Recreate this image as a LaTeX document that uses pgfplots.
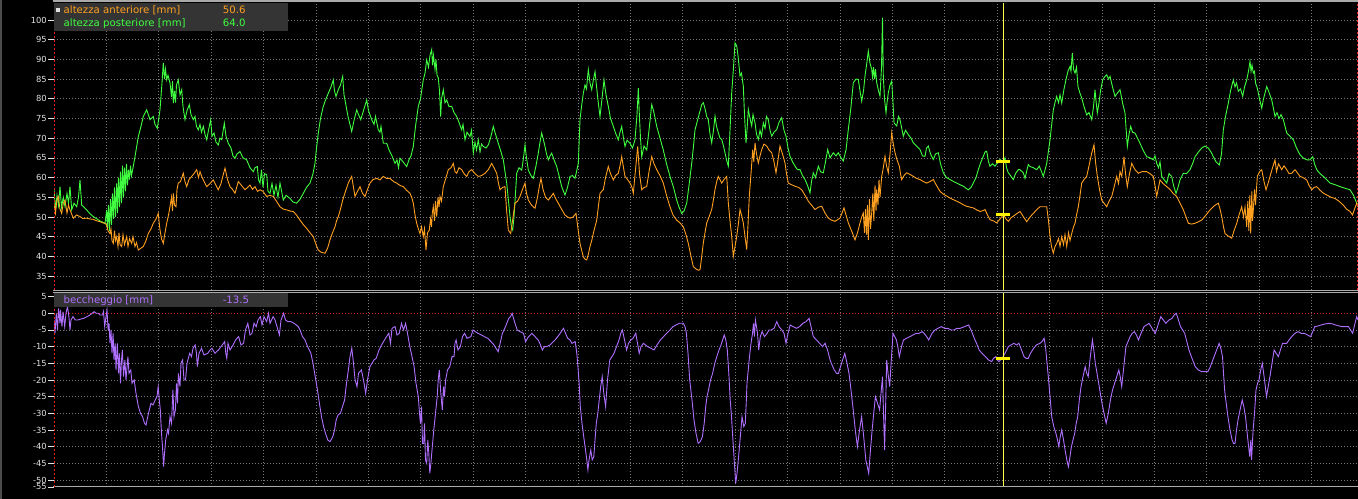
\documentclass[border=0pt]{standalone}
\usepackage{fontspec}
\setmainfont{DejaVu Sans}
\usepackage{pgfplots}
\pgfplotsset{compat=1.18}
\definecolor{ora}{RGB}{255,160,32}
\definecolor{grn}{RGB}{64,255,64}
\definecolor{pur}{RGB}{176,112,255}
\definecolor{gridc}{RGB}{120,120,120}
\definecolor{lbl}{RGB}{225,225,225}
\definecolor{boxc}{RGB}{52,52,52}
\definecolor{curs}{RGB}{255,255,70}
\definecolor{bord}{RGB}{170,170,170}
\definecolor{redd}{RGB}{235,30,30}
\pgfplotsset{
  chartstyle/.style={
    scale only axis, width=1304bp, anchor=south west,
    xmin=54, xmax=1358,
    axis line style={draw=none},
    xtick={106.4,158.8,...,1312},
    xticklabels={},
    x tick style={draw=none},
    tick align=outside, tick pos=left,
    major tick length=6bp,
    y tick style={lbl, line width=0.7bp},
    yticklabel style={font=\fontsize{8.4}{9}\selectfont, text=lbl, inner sep=1bp},
    /pgf/number format/assume math mode=true,
    grid=major,
    major grid style={gridc, line width=0.7bp, dash pattern=on 1bp off 2bp},
    no markers,
    every axis plot/.append style={line width=0.9bp},
    clip=true,
  }
}
\begin{document}
\begin{tikzpicture}[x=1bp,y=1bp]
\fill[black] (0,0) rectangle (1358,499);
\useasboundingbox (0,0) rectangle (1358,499);
\draw[gray!60!black, line width=1.5bp] (1,0) -- (1,499);

% ---------------- TOP PANEL ----------------
\begin{axis}[chartstyle, at={(54bp,209bp)}, height=287bp,
  ymin=31.47, ymax=104.31, ytick={35,40,...,100}]
\addplot[grn] coordinates {
(54,56.9)(55.5,52.0)(57,55.5)(58.5,53.0)(60,57.7)(61.5,52.5)(63.3,55.0)(65,52.6)(67,56.0)(68.5,53.5)(70,57.7)(71.7,51.8)(74,53.5)(76.7,52.6)(78.5,55.0)(80,59.4)(81.7,53.0)(84,52.5)(86.7,51.8)(90,50.8)(93.3,50.1)(97,49.5)(100,49.0)(103.3,48.6)(105,48.3)(106.7,51.8)(107.5,47.0)(108.5,53.0)(109.5,46.5)(110.5,54.5)(111.5,48.0)(112.5,56.0)(113.5,49.5)(114.5,57.5)(115.5,50.0)(116.7,58.5)(117.5,51.0)(118.5,60.0)(119.5,52.5)(120.5,61.5)(121.5,53.5)(122.5,63.0)(123.5,55.0)(124.5,62.5)(125.5,56.5)(126.5,63.5)(127.5,58.0)(128.5,62.0)(129.5,59.5)(130.5,63.0)(131.5,60.5)(133,62.5)(135,65.3)(138.3,70.4)(141,73.0)(143.3,75.5)(146.7,77.2)(150,74.7)(153.3,75.5)(155,73.5)(157.3,72.5)(160,77.2)(162,84.0)(163.3,89.1)(164.5,85.0)(165.5,87.5)(166.7,84.8)(168,86.0)(170,84.0)(171.5,80.5)(172.5,84.5)(173.3,78.9)(174.5,82.0)(175.5,79.0)(176.5,83.5)(178.3,84.8)(180,81.0)(181.7,82.3)(183,78.0)(185,74.7)(187,77.0)(189.3,78.5)(191,76.0)(193.3,74.7)(195,75.5)(196.5,73.0)(198.3,72.1)(200,73.5)(201.5,71.5)(203.3,73.0)(205,71.0)(206.7,69.6)(208.5,72.0)(210.7,74.7)(212,70.5)(214,71.3)(216,69.0)(218.3,68.3)(220,70.0)(221.7,69.6)(224.3,73.8)(226,70.5)(228.3,68.7)(231,67.5)(233,65.5)(235,64.9)(237,66.0)(240,66.6)(243,65.0)(246.7,64.5)(250,62.5)(253.3,61.5)(255,62.5)(257.3,62.8)(258.5,59.5)(260,58.6)(261.5,62.0)(263,57.5)(264.5,61.0)(266.7,60.7)(268,56.5)(270,56.0)(272,58.5)(274,55.5)(276,58.0)(278,55.0)(280,58.6)(283.3,54.3)(286,55.5)(290,54.7)(293,53.8)(296.7,53.5)(300,54.5)(303.3,56.0)(306.5,57.5)(310,58.6)(313,61.0)(315,63.6)(316.5,67.5)(318.3,71.3)(320.5,75.0)(323.3,78.1)(326,80.0)(328.3,81.4)(331,83.0)(333.3,84.8)(334.5,82.0)(336,80.6)(338.3,82.3)(340.5,83.5)(342.7,85.7)(344,81.0)(345,79.7)(348,75.5)(351.7,71.7)(354,74.5)(356.7,77.2)(358.5,76.0)(360.7,74.7)(363.5,77.0)(366.7,79.7)(368.5,77.0)(371.7,74.7)(374,73.5)(375.5,75.5)(378.3,72.1)(380,71.5)(381,73.0)(383.3,68.7)(386.7,68.7)(389,67.0)(392,65.5)(395,63.6)(397,64.5)(398.5,62.5)(400,64.9)(403,64.0)(406.7,62.8)(409,64.5)(411,65.5)(413.3,67.9)(415.5,73.0)(418.3,78.1)(420.5,80.0)(423.3,84.8)(425,86.5)(426.7,89.9)(428.5,88.0)(430,91.0)(431.7,92.5)(432.5,88.5)(433.5,91.0)(435,87.4)(436,90.0)(437,86.0)(438.3,85.3)(439.5,82.0)(440.7,75.5)(441.5,80.0)(443.3,82.3)(445,79.0)(446.7,79.7)(449,78.0)(451.7,78.1)(454,76.5)(456.7,75.5)(459,74.0)(461.7,72.1)(463,73.5)(465,69.6)(467,71.5)(470,70.4)(471.5,72.0)(473.3,66.2)(475,69.0)(476.5,67.0)(478.3,69.6)(480,66.5)(481.5,68.5)(483.3,67.9)(486,67.5)(488.3,68.3)(490.5,70.0)(493.3,73.0)(495.5,71.0)(498.3,68.7)(501,66.5)(503.3,64.5)(505,61.5)(506.7,58.6)(508.5,54.0)(510,50.1)(511.5,47.5)(512.7,46.7)(514,50.0)(515.5,56.0)(516.7,61.1)(519,62.5)(521.7,61.9)(523.5,65.0)(525,68.3)(526.5,65.0)(528.3,61.9)(531,60.5)(533.3,59.8)(536,63.0)(538.3,66.2)(540,69.0)(541.7,71.3)(543.5,69.5)(545,67.9)(546.5,66.0)(548.3,64.5)(550,65.5)(551.7,66.2)(554,64.5)(556.7,62.8)(559,60.5)(561.7,57.7)(563.5,56.5)(565,55.6)(567.5,57.5)(570,60.3)(572.5,60.5)(575,59.8)(576.5,61.5)(578.3,63.6)(580,74.7)(581.5,78.0)(583.3,81.4)(585,83.5)(586.5,82.5)(588.3,87.4)(590,84.0)(591.7,82.3)(593.5,85.0)(595,86.9)(597,82.0)(598.5,78.5)(600,75.5)(602,80.0)(604,84.8)(606,81.0)(608.3,78.1)(610.5,75.0)(613.3,73.0)(616,71.0)(618.3,69.6)(620,71.5)(621.7,73.0)(623.5,70.0)(625,67.9)(627,69.5)(630,68.7)(632.5,67.5)(635,69.6)(637,76.0)(638.3,82.7)(639.5,75.0)(640.5,70.0)(641.7,65.3)(644,68.0)(646.7,67.0)(649,72.0)(651.7,78.5)(653.5,77.0)(656.7,73.0)(660,70.0)(663.3,67.0)(666.5,63.5)(670,60.3)(673.5,57.5)(676.7,54.3)(679,52.5)(681.7,50.9)(684,51.5)(686.7,53.5)(689,58.0)(691.7,63.6)(693.5,68.0)(695,72.1)(698,75.0)(701.7,78.5)(703.3,79.0)(705,77.5)(706.7,75.5)(708.3,74.7)(710,71.0)(711.7,68.8)(713.5,72.0)(715,75.6)(716.5,73.0)(718.3,71.4)(720,70.0)(721.7,69.7)(723.5,68.0)(725,66.3)(726.5,64.5)(728.3,62.9)(730,72.0)(731.7,81.5)(733.5,88.0)(735,94.2)(736.7,93.4)(738,91.0)(740,85.8)(741.5,86.5)(743.3,83.2)(744.5,76.0)(746,68.8)(747,72.0)(748.3,77.3)(750,75.0)(751.7,73.1)(753,76.0)(755,73.9)(756.5,71.0)(758.3,69.7)(760,72.0)(761.5,70.5)(763.3,73.9)(765,72.5)(766.5,75.5)(768.3,74.7)(770,72.0)(771.7,70.5)(774,71.5)(776.7,72.2)(779,74.0)(781.7,75.2)(784,72.0)(786,70.5)(788,67.5)(790,65.4)(792.5,64.0)(795,62.9)(797.5,62.0)(800,62.0)(802.5,60.5)(805,59.5)(807.5,58.0)(810,56.1)(811.5,59.0)(813.3,61.2)(815.5,60.0)(818.3,62.9)(820.5,61.5)(823.3,61.2)(825.5,64.0)(827.7,67.1)(830,65.0)(833.3,66.3)(836,65.5)(838.3,66.3)(841,65.0)(843.3,64.2)(846,67.0)(848.3,72.2)(851,78.0)(853.3,84.1)(856,85.0)(858.3,84.9)(860,82.0)(861.7,79.4)(863.5,82.0)(865,85.8)(866.5,88.5)(868.3,92.1)(870,89.0)(871.7,87.5)(872.5,85.5)(873.5,88.0)(874.5,85.0)(875.5,87.5)(876.7,84.1)(878.5,82.0)(880,80.7)(881.5,88.0)(882.5,100.6)(883.3,85.8)(884.5,80.0)(886,76.4)(887,79.0)(888.3,81.5)(890,83.5)(891.7,84.5)(893,79.0)(894,73.9)(896.7,73.1)(898.5,75.5)(900,74.7)(903.3,70.5)(905.5,72.0)(908.3,70.9)(911,70.0)(913.3,68.8)(916.5,68.0)(920,67.1)(922.5,65.5)(925,65.4)(926.5,67.5)(928.3,68.0)(930.5,66.0)(933.3,64.6)(935.5,66.0)(938.3,66.3)(940.5,63.5)(943.3,61.2)(946.5,60.0)(950,59.5)(953.5,59.0)(956.7,58.6)(960,58.2)(963.3,57.8)(966,57.3)(968.3,56.9)(971,57.5)(973.3,58.6)(976,60.0)(978.3,62.0)(981,64.0)(983.3,65.4)(985,66.5)(986.7,66.7)(988.5,64.0)(990,62.9)(992.5,63.5)(995,62.9)(997.5,63.8)(1000,64.6)(1003,64.0)(1005,65.0)(1006.5,62.5)(1008.3,61.2)(1010.5,60.5)(1013.3,59.5)(1015.5,61.0)(1018.3,62.0)(1020,62.0)(1023.3,61.2)(1025,59.8)(1027,62.0)(1028.3,63.3)(1030,62.8)(1033.3,62.5)(1036.7,62.0)(1039.3,62.9)(1041.5,61.5)(1043.3,60.3)(1046.7,63.6)(1050,69.6)(1053.3,77.2)(1055,79.0)(1056.7,80.6)(1058.5,79.0)(1060,81.0)(1061.7,78.9)(1064,82.5)(1066.7,85.7)(1068,87.0)(1070,88.2)(1071,87.0)(1072.3,91.6)(1073.5,87.5)(1075,86.5)(1076.5,88.0)(1078,83.0)(1080,81.4)(1082,80.0)(1084,78.0)(1086.7,75.9)(1089,76.5)(1091.7,74.7)(1093.5,78.0)(1095,82.3)(1096.2,79.0)(1097.3,76.4)(1099,79.0)(1100.5,82.0)(1102.7,84.8)(1104.5,85.5)(1106.7,86.1)(1108.5,85.0)(1110,85.7)(1112.5,83.0)(1115,80.6)(1117.5,81.5)(1120,82.3)(1122.5,79.0)(1125,76.4)(1126.2,72.0)(1127.3,67.9)(1129,71.0)(1130.7,73.0)(1132.5,71.5)(1135,71.3)(1137.5,70.0)(1140,68.7)(1143,67.0)(1146.7,65.3)(1150,65.0)(1153.3,64.5)(1155,65.5)(1156.7,63.6)(1158.5,62.5)(1160,64.0)(1161.7,60.3)(1164,59.5)(1166.7,58.6)(1169,61.0)(1171.7,60.3)(1173.5,58.0)(1176,56.0)(1178,57.5)(1180,59.4)(1183.3,61.1)(1186.5,61.0)(1190,62.0)(1192.5,63.5)(1195,65.3)(1198.5,66.5)(1201.7,67.5)(1205,68.0)(1208.3,67.5)(1211,66.5)(1213.3,65.3)(1216,64.0)(1219.3,63.2)(1221.5,66.0)(1223.3,72.1)(1225.5,75.5)(1228.3,78.9)(1230.5,82.0)(1233.3,84.8)(1235,83.0)(1236.5,84.0)(1238.3,81.9)(1240.5,82.5)(1242.7,80.6)(1244.5,83.0)(1246.7,84.8)(1248.5,87.0)(1250,89.5)(1251,87.0)(1252,88.5)(1253.3,86.5)(1254.5,87.0)(1255.5,84.0)(1257.3,82.7)(1259.5,80.0)(1261.7,77.6)(1263.5,80.0)(1266.7,83.1)(1268.5,82.0)(1271.7,79.7)(1273.5,77.5)(1275,75.5)(1277,76.5)(1279,75.0)(1281,76.0)(1283.3,74.7)(1285,73.0)(1286.7,71.3)(1290,70.5)(1293.3,69.6)(1296.5,67.5)(1300,65.8)(1303,65.0)(1306.7,64.5)(1310,64.5)(1312.7,65.3)(1314.5,63.5)(1316.7,62.0)(1320,61.0)(1323.3,60.3)(1326.5,59.5)(1330,58.6)(1335,58.2)(1340,57.7)(1345,57.3)(1350,56.9)(1353.5,55.5)(1356.7,53.5)(1358,53.0)
};
\addplot[ora] coordinates {
(54,53.5)(55.5,51.0)(57,54.5)(58.3,55.2)(60,52.0)(61.7,50.9)(63.3,53.5)(65,54.3)(67,51.0)(68.5,53.0)(70,51.8)(73.3,49.7)(76.5,50.5)(80,50.1)(83,49.6)(86.7,49.7)(90,49.5)(93.3,49.4)(97,49.0)(100,48.8)(103,48.5)(105,48.4)(106.5,48.0)(108,46.5)(110,45.8)(111,47.0)(112,44.0)(113.3,43.3)(114.5,46.5)(115.5,44.0)(116.7,45.0)(118,42.5)(119,46.0)(120,43.0)(121.7,42.5)(123,45.5)(124.5,43.0)(126.7,45.0)(128,42.5)(129.5,44.5)(131.7,43.3)(133,45.0)(135,42.5)(136.5,43.5)(138.3,41.6)(140.5,42.0)(143.3,42.5)(146,44.0)(148.3,45.8)(151,47.0)(153.3,48.4)(156,49.5)(158.3,50.9)(159.2,48.5)(160,46.7)(161.5,44.5)(163.3,43.3)(165,46.0)(166.7,48.4)(168.5,50.5)(170,52.6)(171.5,55.0)(172.5,51.5)(173.3,56.0)(174.5,53.0)(176,52.6)(177,57.0)(178.3,58.6)(180.5,59.0)(183.3,61.1)(185,59.0)(186.7,57.7)(189,59.5)(191.7,60.3)(194,61.0)(196.7,62.0)(198.5,60.0)(200,61.5)(201.7,60.3)(204,59.0)(206.7,57.7)(210,58.5)(213.3,59.4)(216,58.0)(218.3,56.9)(221,58.5)(223,60.5)(225,62.4)(227.5,59.5)(230,57.7)(232.5,57.0)(235,56.0)(238.3,59.0)(241.5,58.0)(245,56.9)(247.5,57.5)(250,58.1)(252.5,57.0)(255,57.7)(257.5,56.5)(260,56.9)(263,56.5)(266.7,55.2)(270,55.5)(273.3,55.2)(276.5,54.0)(280,52.6)(283.3,52.0)(286.7,51.8)(290,51.5)(293.3,51.4)(296.5,50.5)(300,49.2)(303.5,48.0)(306.7,47.1)(310,46.0)(313.3,45.0)(316,43.0)(318.3,41.6)(321.5,41.0)(325,40.8)(327.5,42.0)(330,44.2)(332.5,46.0)(335,47.5)(336.5,49.0)(338.3,50.1)(340.5,52.0)(342.7,54.3)(345.5,56.5)(348.3,58.6)(350,59.5)(351.7,60.3)(353.5,57.5)(355,55.2)(357.5,56.5)(360,57.7)(362.5,56.0)(365,55.2)(367.5,57.0)(370,58.6)(373,59.5)(376.7,59.8)(380,59.4)(383.3,60.3)(386.5,59.8)(390,59.8)(393.5,59.0)(396.7,58.6)(400,58.0)(403.3,57.7)(406.5,56.8)(410,56.0)(411.7,55.0)(413.3,53.5)(415,50.5)(416.7,48.4)(418.3,47.0)(420,45.8)(421.5,47.5)(423.3,45.0)(424.5,47.0)(426,41.6)(427.5,46.0)(429.3,46.7)(430.5,49.5)(431.5,47.5)(432.3,51.0)(433.3,52.6)(434.5,49.0)(435.5,54.0)(436.7,50.1)(438,55.0)(439,52.5)(440,55.2)(441.5,54.0)(443.3,57.7)(446,60.0)(448.3,62.0)(451,62.5)(453.3,63.6)(455,61.5)(456.7,61.1)(459,62.5)(461.7,62.0)(464,61.0)(466.7,60.3)(469,61.5)(471.7,62.0)(475,61.0)(478.3,60.3)(481.5,60.5)(485,61.1)(488.3,62.0)(491.7,63.6)(494,62.5)(496.7,61.1)(498.5,58.5)(500,56.9)(502.5,57.5)(505,57.7)(506.5,52.0)(508.3,46.7)(510.7,45.8)(512.5,49.0)(515,53.5)(517.5,54.0)(520,55.2)(522.5,57.0)(525,58.6)(526.5,56.0)(528.3,54.3)(531.5,53.0)(535,52.2)(537.5,55.0)(539.5,58.0)(541,59.8)(543,57.0)(545.5,55.0)(548.3,54.3)(550.5,55.0)(553.3,56.0)(556,54.5)(558.3,53.5)(561.5,52.0)(565,50.5)(567.5,50.0)(570,49.7)(573,50.0)(576,50.9)(578,47.0)(580,43.3)(581.7,41.5)(583.3,39.9)(585,39.3)(586.7,39.1)(588.3,40.5)(590,42.5)(591.7,44.0)(593.3,45.8)(595,47.5)(596.7,49.2)(598.3,52.5)(600,56.0)(601.7,56.5)(603.3,56.9)(605.5,60.0)(608.3,62.8)(610.5,61.0)(613.3,59.4)(615.5,60.5)(618.3,61.1)(620,63.0)(621.7,65.3)(623.5,62.5)(625,60.3)(627.5,59.5)(630,58.6)(632,57.5)(633.3,56.0)(635.5,62.0)(637.7,67.9)(639.5,61.0)(641.7,56.9)(644,57.5)(646.7,57.7)(649,61.5)(651.7,65.3)(654,63.5)(656.7,62.0)(660,60.5)(663.3,58.6)(666.5,55.5)(670,52.6)(673,50.5)(676.7,49.2)(680,48.5)(683.3,47.5)(686,45.5)(688.3,43.3)(691,40.0)(693.3,37.4)(696,36.8)(698.3,36.5)(700,36.6)(701.5,39.5)(703.3,43.4)(705,46.0)(706.7,48.5)(709,50.0)(711.7,51.9)(713.5,54.5)(715,57.0)(716.7,59.0)(718.3,60.3)(720,59.5)(721.7,58.6)(724,59.5)(726.7,60.3)(727.5,57.0)(728.3,53.6)(730,49.0)(731.7,45.1)(733.3,40.0)(735,42.5)(736.7,45.1)(738.5,48.5)(740,51.9)(741.5,50.5)(743.3,48.5)(745,45.0)(746.7,41.7)(748,48.0)(749.3,55.3)(751,61.0)(752.7,67.1)(753.8,64.0)(755,68.8)(756.5,66.0)(758.3,63.7)(760,65.5)(761.7,67.1)(764,68.5)(766.7,68.0)(769,67.0)(771.7,66.3)(774,64.0)(776,61.2)(778,64.5)(780,68.0)(782.5,66.0)(785,63.7)(786.5,61.0)(788.3,58.6)(791.5,58.2)(795,57.8)(798.5,57.5)(801.7,56.9)(805,55.5)(808.3,54.0)(811.5,53.0)(815,51.9)(818.5,52.5)(821.7,52.7)(825,51.0)(828.3,49.7)(831.5,49.2)(835,48.9)(837.5,49.3)(840,49.7)(842,51.0)(844,52.3)(846,50.5)(848.3,48.5)(851.5,46.5)(855,44.2)(857.5,46.0)(860,48.5)(861.7,50.0)(863.3,51.0)(864.5,46.0)(865.5,52.0)(866.5,45.5)(867.5,53.0)(868.3,44.2)(869.5,54.5)(870.5,47.0)(871.7,51.0)(872.8,56.0)(873.8,49.0)(875,58.0)(876,51.5)(876.7,57.0)(878,53.0)(879,59.5)(880,55.0)(881.7,60.3)(883.3,62.5)(885,65.4)(886.5,63.0)(888.3,61.2)(890,66.0)(891.7,71.4)(893.3,68.5)(895,66.3)(897,64.5)(899.3,62.9)(900.5,61.0)(901.7,59.5)(904,60.5)(906.7,61.2)(910,60.8)(913.3,60.3)(916.5,59.8)(920,59.5)(923.3,59.0)(926.7,58.6)(930,59.0)(933.3,59.5)(936.5,58.0)(940,56.5)(943.3,55.8)(946.7,55.3)(950,54.8)(953.3,54.4)(956.7,54.0)(960,53.6)(963.3,53.1)(966.7,52.7)(970,52.5)(973.3,52.3)(976.7,51.8)(980,51.4)(983,51.6)(985,51.9)(987.5,50.5)(990,49.3)(993.5,49.0)(996.7,48.5)(1000,49.5)(1003.3,50.6)(1006,49.5)(1008.3,48.9)(1011,49.8)(1013.3,50.2)(1016.5,50.8)(1020,51.4)(1023.5,50.0)(1026.7,48.8)(1030,50.0)(1033.3,50.9)(1036.5,51.8)(1040,52.6)(1043,52.6)(1046.7,52.6)(1048.5,49.0)(1050,45.0)(1051.5,42.5)(1053.3,40.8)(1055,42.5)(1056.7,43.3)(1058.5,44.5)(1060,42.5)(1061.7,45.0)(1063.5,43.0)(1065,45.5)(1066.7,42.5)(1068.5,46.0)(1070,44.0)(1071.7,45.8)(1073.5,47.5)(1075,48.4)(1076.5,50.5)(1078.3,52.6)(1080,55.5)(1081.7,58.6)(1084,59.5)(1086.7,60.3)(1089,63.0)(1091.7,66.2)(1094,68.3)(1095.5,64.0)(1097.3,60.3)(1099.5,57.0)(1101.7,54.3)(1104,53.5)(1106.7,52.6)(1109,54.0)(1111.7,55.2)(1114,57.5)(1116.7,60.3)(1118.5,58.5)(1120,61.5)(1121.7,60.3)(1123,63.0)(1124,65.3)(1125.5,61.0)(1127.3,57.7)(1129.5,61.0)(1131.7,63.6)(1135,62.0)(1138.3,61.1)(1142,61.5)(1146.7,61.5)(1150,61.0)(1153.3,60.3)(1155,58.0)(1156.7,55.2)(1158.5,57.5)(1160,59.4)(1163,58.5)(1166.7,57.7)(1170,57.0)(1173,56.0)(1176.7,55.2)(1180,53.5)(1183.3,51.8)(1186,50.0)(1188.3,48.4)(1191.5,48.2)(1195,48.4)(1198.5,48.8)(1201.7,49.2)(1206,50.5)(1210,51.8)(1214,52.8)(1218.3,53.5)(1220,52.0)(1221.7,50.1)(1223.5,47.5)(1225,45.8)(1228,45.2)(1231.7,44.6)(1234,46.5)(1236.7,48.4)(1239,50.5)(1241.7,52.6)(1243.5,50.0)(1245,52.5)(1246.7,47.5)(1247.8,54.0)(1248.8,46.5)(1249.8,55.5)(1250.7,45.8)(1251.8,56.5)(1252.5,49.0)(1253.3,51.8)(1254.5,57.0)(1255.5,53.0)(1257.3,60.3)(1259.5,61.5)(1261.7,62.0)(1264,59.0)(1266,56.9)(1268,58.5)(1270,60.3)(1272.5,62.5)(1275,64.5)(1276.5,61.5)(1278.5,63.5)(1281.7,62.0)(1284,63.0)(1286.7,62.0)(1289,61.0)(1291.7,61.1)(1295,62.0)(1298,61.0)(1300,60.3)(1303,60.0)(1306.7,59.4)(1309,58.0)(1311.7,56.9)(1314,57.5)(1316.7,57.7)(1320,56.8)(1323.5,56.0)(1326.7,55.6)(1331,55.0)(1335,54.7)(1339,54.0)(1343.3,53.0)(1346.5,52.0)(1350,51.4)(1352.5,50.5)(1354.5,52.0)(1356.7,53.5)(1358,52.5)
};
\addplot[curs, line width=1bp] coordinates {(1003,31.47)(1003,104.31)};
\addplot[yellow, line width=3bp] coordinates {(996,64.0)(1010,64.0)};
\addplot[yellow, line width=3bp] coordinates {(996,50.6)(1010,50.6)};
\end{axis}

% ---------------- BOTTOM PANEL ----------------
\begin{axis}[chartstyle, at={(54bp,12bp)}, height=194bp,
  ymin=-52.1, ymax=6.09, ytick={-50,-45,...,-5},
  extra y ticks={0,5,-52.1}, extra y tick labels={0,5,-55},
  extra y tick style={grid=none}]
\addplot[redd, line width=0.9bp, dash pattern=on 1bp off 2bp] coordinates {(54,0)(1358,0)};
\addplot[pur] coordinates {
(54,-2)(55,-6)(56.3,0)(57.5,-5)(58.5,1.5)(60,-3)(60.5,1)(62,-4)(63,0.5)(64.7,-4)(66,0)(67.5,2)(68.9,-1)(70,-5)(71,-2)(73,-1)(75.3,-2)(78,-2)(80,-1.8)(83.7,-1.5)(87,-1)(90,-0.5)(94.2,0.5)(96,0)(98.4,0)(100,-0.5)(102.6,-0.5)(103.5,0.5)(104.7,-4)(106,-1)(107,1)(108.1,-5)(109,-3)(110,-9)(111,-5)(112,-12)(113.1,-6)(114,-14)(115.2,-9)(116,-17)(117.3,-9)(118.5,-18)(119.4,-12)(120.5,-21)(121.5,-14)(122.4,-11)(123.5,-19)(124.9,-14)(126,-20)(127.9,-13)(129,-18)(130.8,-17)(132,-21)(134.2,-20)(136,-24)(138.4,-28)(140.5,-30)(142.6,-31)(144.5,-33)(146,-33.5)(148.5,-30)(151,-27)(153,-27.5)(155.2,-26)(157,-25)(158.2,-22)(159.3,-26)(160.3,-29)(161.5,-36)(162.5,-40)(163.6,-46)(164.5,-42)(165.7,-38)(167.5,-35)(168.5,-36)(170,-31)(171.5,-33)(172.9,-23)(174,-31)(175.4,-29)(176.5,-21)(177.5,-27)(178.4,-18)(180,-22)(181,-15)(182.6,-14)(184,-20)(185.5,-20)(187,-15)(189.7,-12)(191.5,-13)(193,-10.5)(195.2,-9.5)(196.5,-12)(197.3,-16)(199,-12)(201.5,-10.5)(204,-12.5)(207.8,-12)(210,-11)(212,-10.5)(215,-12)(218.4,-11)(221,-10)(224.7,-8.5)(225.8,-12)(226.8,-13.5)(228,-9)(230,-11)(233.1,-9.5)(235.5,-8)(238.6,-7)(241,-9.5)(243.6,-9)(245.5,-5)(247.8,-3)(250,-6.5)(252,-6)(254,-3)(256.2,-4)(258,-2)(260.4,-1)(262,-3.5)(264,-1)(266.7,-2.5)(268.5,0)(270,-3)(273.1,-1)(275,-2)(277,-4)(279.4,-6.5)(281,-2)(283.6,0)(285.5,-2)(287.8,-2.5)(291,-2.5)(294.1,-3)(298.3,-4)(300,-5)(302.5,-7)(305,-8)(307.6,-10)(310.9,-12)(313,-15)(315.2,-19)(317.5,-23)(319.4,-27)(321.5,-31)(323.6,-34)(325.5,-36)(327.8,-38)(330,-38.5)(332.8,-37)(334.5,-35)(336.2,-32)(338,-30.5)(340.4,-30)(342.5,-28)(344.6,-26)(346.5,-21)(348.8,-16)(350,-13)(351.8,-10.5)(353.5,-15)(355.1,-20)(357,-22)(358.5,-18)(361.4,-17)(363.5,-20)(365.7,-24)(367.5,-20)(369.9,-16)(372,-15)(374,-14)(376.2,-13.5)(379,-11)(382.5,-9)(385.5,-7.5)(388.8,-6)(390.5,-9)(392,-4.5)(395.1,-4)(397,-6.5)(399.3,-6)(401.5,-3)(403.5,-5)(405.6,-3)(407.5,-6)(409.8,-10)(412,-13)(414.1,-16)(416,-21)(418.3,-25)(419.5,-30)(420.4,-33)(421.5,-28)(422.5,-39)(423.7,-39)(424.5,-33)(425.5,-44)(426.7,-45)(427.8,-38)(428.8,-42)(429.8,-48)(430.9,-45)(432,-41)(433.8,-35)(435.5,-30)(437.2,-25)(438.2,-20)(439.3,-17)(440.8,-24)(442.3,-29)(443.5,-22)(444.5,-25)(445.6,-20)(447.5,-17)(449.8,-16)(452,-13)(454,-13)(455,-9)(456.1,-8)(458,-11)(460.3,-10)(462.5,-7)(464.6,-6)(467,-7.5)(470.9,-7)(473,-5)(475.1,-5.5)(478,-6)(481.4,-6.5)(484.5,-7)(487.7,-7.5)(491,-8.5)(494,-9.5)(496,-10.5)(498.2,-11.5)(500.5,-8.5)(502.4,-6)(505.5,-4)(508.7,-1.5)(510.5,-1)(512.1,0)(514.5,-2.5)(517.2,-5)(520,-5.5)(523.5,-6)(525.6,-8.5)(528.5,-7)(531.9,-6)(535,-7)(538.2,-8)(540.5,-9.5)(542.4,-11)(544.5,-10)(546.6,-10)(550,-9.5)(555,-8)(559,-6.5)(563.5,-4.5)(565.5,-6)(567.7,-7.5)(570,-8)(571.9,-9)(575.2,-8.5)(576.8,-12)(578.2,-17)(579.3,-22)(580.3,-28)(582,-33)(583.7,-37)(585.5,-41)(586.8,-44)(587.9,-47)(589,-44)(590.8,-41)(592.2,-44)(593.8,-43)(595,-38)(596.3,-33)(597.8,-30)(599.2,-26)(600.7,-22)(602.2,-19)(603.8,-24)(605.6,-28)(607.5,-20)(609.8,-14)(612,-13)(614,-12)(616.5,-10)(619,-8)(620.8,-6)(622.4,-5)(624.5,-8)(626.6,-11)(628.5,-9)(630.8,-8)(633,-7.5)(635.8,-6)(637.5,-9)(639.2,-12)(641,-10)(643.4,-9)(645.5,-9.5)(647.6,-10)(651,-10.5)(654,-11)(657,-9.5)(660.3,-8)(663.5,-7)(666.6,-6)(670,-5)(672.9,-4)(676,-3.5)(679.2,-3)(683.4,-3)(685,-4)(686.4,-6)(688,-12)(689.7,-20)(692,-26)(694,-32)(696,-36)(698.2,-39)(700.2,-38.5)(702.4,-37)(704.2,-33)(705.7,-28)(707,-25)(708.5,-23)(710.5,-20)(712.6,-18)(714.8,-15)(716.8,-13)(719,-11)(721,-9.5)(722.6,-8)(724.3,-6.5)(725.8,-8)(727.3,-11)(728.8,-18)(730.2,-26)(731.5,-31)(732.7,-37)(734.2,-44)(735.7,-51)(737,-48)(738.6,-43)(740.3,-37)(742,-31)(743.8,-34)(745.3,-33)(746.2,-27)(747,-21)(748.2,-17)(749.5,-13)(751,-9)(752.5,-6)(753.5,-3)(754.4,-7)(755.4,-2)(756.5,-4)(757.5,-6)(758.7,-11)(760.3,-7)(762.1,-5.5)(764.5,-7)(767.1,-6)(769,-5)(771.3,-5)(774,-4.5)(776.8,-2.5)(779,-4)(781.8,-5)(784,-6)(786,-9)(788,-6)(790.2,-3.5)(793,-4)(796.5,-4.5)(799.5,-4)(802.8,-3)(806,-2.5)(809.1,-1.5)(811,-4)(813.3,-7)(816.5,-8)(819.6,-9)(822.5,-10)(825.1,-9)(827.5,-11)(830.1,-14)(832,-15.5)(834.3,-17)(836.5,-18)(838.5,-18)(841.5,-15)(844.8,-12)(847,-15)(849,-18)(851,-23)(853.2,-29)(855.3,-35)(857.4,-40)(859.5,-35)(861.6,-31)(863.7,-37)(865.8,-44)(867.3,-46)(868.7,-48)(870.2,-42)(872.1,-35)(873.7,-30)(875.4,-25)(877.5,-27)(879.6,-29)(881,-24)(882.5,-19)(883.5,-30)(884.6,-41)(885.6,-28)(886.7,-14)(888,-18)(889.7,-22)(891.3,-14)(893,-6)(894.7,-7)(896.4,-8)(897.8,-10)(899.3,-13)(901.5,-10)(903.5,-8)(906.5,-7.5)(909.8,-7)(913,-6.5)(916.1,-6)(919,-6)(922.4,-5.5)(925.5,-6.5)(928.7,-8)(932,-6)(935,-5)(938,-4.5)(941.3,-4)(944.5,-4.5)(947.6,-4.5)(951,-5)(953.9,-5)(957,-4.5)(960.2,-4.5)(964.5,-4)(968.6,-3.5)(971,-5)(973.6,-7)(976.5,-9)(979.1,-11)(982,-12)(985.4,-13)(988.5,-14)(991.7,-14.5)(993.5,-13.5)(995.8,-13)(997.5,-14)(998.8,-14.5)(1000.5,-14)(1002.1,-13.5)(1005,-12)(1008.4,-10)(1011,-9.5)(1013.9,-9)(1016.5,-9.5)(1018.9,-9)(1021.5,-11)(1024,-13)(1026,-13.5)(1028.2,-13.5)(1030.5,-12)(1033.6,-10.5)(1036.5,-9.5)(1039.9,-9)(1042,-8.5)(1044.1,-7.5)(1045.5,-10)(1047,-15)(1048.3,-19)(1050,-25)(1051.7,-31)(1053.8,-34)(1055.9,-36)(1057.5,-38)(1058.8,-40)(1060.2,-37)(1061.7,-35)(1063.5,-38)(1065.1,-41)(1066.8,-44)(1068.4,-46)(1070,-43)(1071.4,-40)(1073,-38)(1074.7,-36)(1076.2,-33)(1077.7,-31)(1079.3,-26)(1081,-22)(1083,-19)(1085.2,-16)(1086.7,-18)(1088.2,-19)(1090.3,-13)(1092.4,-8)(1093.8,-11)(1095.3,-15)(1097,-18)(1098.7,-21)(1100.3,-24)(1102,-27)(1104,-30)(1106.2,-33)(1108.3,-30)(1110.4,-26)(1112.5,-23)(1114.6,-21)(1116.7,-19)(1118.8,-17)(1120.2,-19)(1121.7,-22)(1123.8,-16)(1125.9,-10)(1128,-8.5)(1130.1,-7)(1132.2,-6)(1134.3,-5.5)(1136.4,-6.5)(1138.5,-8)(1141,-6)(1144,-4)(1146.5,-3.5)(1149,-3)(1152,-4.5)(1155.3,-6)(1158,-3.5)(1160.8,-1)(1163.3,-2)(1165.8,-3)(1169,-2)(1172.1,-1.5)(1174.2,-0.5)(1176.3,0)(1178.4,-2)(1180.5,-4)(1182.6,-5)(1184.7,-6)(1186.8,-8.5)(1188.9,-11)(1192,-13.5)(1195.2,-16)(1198.3,-17)(1201.5,-17.5)(1204.6,-17.5)(1207.8,-17.5)(1210.3,-16)(1212.8,-14)(1216,-11.5)(1219.1,-9)(1220.8,-10.5)(1222.5,-13)(1223.5,-18)(1224.6,-23)(1226.2,-27)(1227.9,-31)(1230,-35)(1232.1,-38)(1233.5,-39)(1235,-39)(1236.5,-35)(1238,-32)(1240,-29)(1242.2,-26)(1243.8,-28)(1245.5,-31)(1247.5,-37)(1249.7,-43)(1250.8,-38)(1251.5,-44)(1253.1,-35)(1254.5,-30)(1256,-23)(1257.5,-21)(1259,-20)(1260.7,-17)(1262.3,-15)(1264.5,-20)(1266.5,-25)(1268.2,-22)(1269.9,-19)(1272,-15)(1274.1,-11)(1276.2,-12)(1278.3,-13)(1280.4,-11)(1282.5,-9)(1284.6,-9)(1286.7,-9)(1289,-8)(1291.7,-7)(1294.9,-6)(1298,-5.5)(1301,-6)(1304.3,-6)(1307.5,-6.5)(1310.6,-7)(1312.7,-5.5)(1314.8,-4)(1318,-3.8)(1321.1,-3.5)(1325,-3.2)(1329.5,-3)(1332.6,-3.2)(1335.7,-3.5)(1339,-3.8)(1342,-4)(1345,-4)(1348.4,-4)(1350.5,-5)(1352.6,-6)(1354.6,-3.5)(1356.7,-1)(1358,-2)
};
\addplot[curs, line width=1bp] coordinates {(1003,-52.1)(1003,6.09)};
\addplot[yellow, line width=3bp] coordinates {(996,-13.5)(1010,-13.5)};
\end{axis}

% ---------------- frame lines ----------------
\draw[bord, line width=1.4bp] (53,497.8) -- (1358,497.8);
\draw[bord, line width=1bp] (53,208.3) -- (1358,208.3);
\draw[bord, line width=1bp] (53,206.5) -- (1358,206.5);
\draw[bord, line width=1.2bp] (53,12.3) -- (1358,12.3);
\draw[redd, line width=1bp, dash pattern=on 2bp off 2bp] (54,209) -- (54,496);
\draw[redd, line width=1bp, dash pattern=on 2bp off 2bp] (54,12) -- (54,206);
\draw[redd, line width=1bp, dash pattern=on 2bp off 2bp] (1357.3,209) -- (1357.3,496);

% ---------------- legend boxes ----------------
\fill[boxc] (54,496) rectangle (288,468);
\fill[lbl] (56,490.5) rectangle (59.5,487);
\node[anchor=base west, inner sep=0, text=ora, font=\fontsize{10.2}{12}\selectfont] at (63.5,485) {altezza anteriore [mm]};
\node[anchor=base west, inner sep=0, text=ora, font=\fontsize{10.2}{12}\selectfont] at (222.7,485) {50.6};
\node[anchor=base west, inner sep=0, text=grn, font=\fontsize{10.2}{12}\selectfont] at (63.5,472) {altezza posteriore [mm]};
\node[anchor=base west, inner sep=0, text=grn, font=\fontsize{10.2}{12}\selectfont] at (222.7,472) {64.0};
\fill[boxc] (54,205.7) rectangle (288,192.3);
\node[anchor=base west, inner sep=0, text=pur, font=\fontsize{10.2}{12}\selectfont] at (63.5,195) {beccheggio [mm]};
\node[anchor=base west, inner sep=0, text=pur, font=\fontsize{10.2}{12}\selectfont] at (222.6,195) {-13.5};
\end{tikzpicture}
\end{document}
